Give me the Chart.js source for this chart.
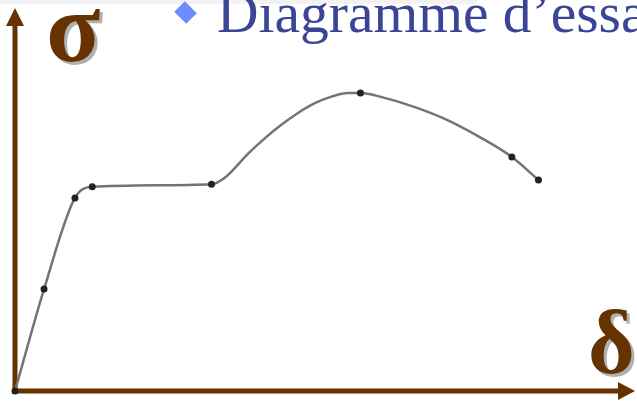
<!DOCTYPE html>
<html lang="fr">
  <head>
    <meta charset="utf-8" />
    <title>Diagramme d'essai</title>
    <style>
      * {
        margin: 0;
        padding: 0;
      }
      body {
        width: 637px;
        height: 405px;
        overflow: hidden;
        background: #fff;
        position: relative;
      }
      .chartBox {
        position: absolute;
        left: 0;
        top: 0;
        width: 637px;
        height: 405px;
      }
      .topStrip {
        position: absolute;
        left: 0;
        top: 0;
        width: 477px;
        height: 4px;
        background: #f2f2f2;
      }
      .title {
        position: absolute;
        left: 217px;
        top: -16px;
        font-family: "Liberation Serif", serif;
        font-size: 57.5px;
        line-height: 57.5px;
        color: #3b4596;
        white-space: nowrap;
      }
      .bullet {
        position: absolute;
        left: 177px;
        top: 5px;
        width: 17px;
        height: 15px;
        background: #6f8cff;
        transform: rotate(45deg);
      }
      .axisLabel {
        position: absolute;
        font-family: "Liberation Serif", serif;
        font-weight: bold;
        color: #663300;
        text-shadow: 3px 3px 0 #b0b0b0;
      }
    </style>
  </head>
  <body>
    <div class="topStrip"></div>
    <div class="chartBox">
      <canvas id="myChart"></canvas>
    </div>
    <div class="bullet"></div>
    <div class="title">Diagramme d’essai</div>
    <div class="axisLabel" style="left: 46px; top: -22px; font-size: 100px; line-height: 100px">σ</div>
    <div class="axisLabel" style="left: 588px; top: 298px; font-size: 90px; line-height: 90px">δ</div>

    <script src="https://cdn.jsdelivr.net/npm/chart.js@4.4.0/dist/chart.umd.min.js"></script>

    <script>
      // allongement (delta) et contrainte (sigma)
      const strainX = [0, 4.7, 9.7, 12.5, 31.8, 34.1, 37.8, 40.5, 43.1, 45.8, 48.6, 51.1, 53.9, 55.9, 59.2, 64.6, 69.9, 75.2, 80.4, 84.7];
      const stressY = [0, 26.6, 50.4, 53.3, 54.0, 55.9, 62.1, 66.1, 69.5, 72.6, 75.2, 76.8, 77.8, 77.8, 76.8, 74.2, 70.8, 66.3, 61.1, 55.1];
      // points marqués sur la courbe
      const markedIdx = [0, 1, 2, 3, 4, 13, 18, 19];

      const brown = "#663300";

      const axesPlugin = {
        id: "axes",
        beforeDatasetsDraw(chart) {
          const { ctx, scales } = chart;
          const x0 = scales.x.getPixelForValue(0);
          const y0 = scales.y.getPixelForValue(0);
          const yTop = scales.y.getPixelForValue(scales.y.max);
          const xEnd = scales.x.getPixelForValue(scales.x.max);
          ctx.save();
          ctx.strokeStyle = brown;
          ctx.fillStyle = brown;
          ctx.lineWidth = 5;
          // axe vertical
          ctx.beginPath();
          ctx.moveTo(x0, y0 + 3);
          ctx.lineTo(x0, yTop + 16);
          ctx.stroke();
          ctx.beginPath();
          ctx.moveTo(x0, yTop);
          ctx.lineTo(x0 - 9, yTop + 18);
          ctx.lineTo(x0 + 9, yTop + 18);
          ctx.closePath();
          ctx.fill();
          // axe horizontal
          ctx.beginPath();
          ctx.moveTo(x0 - 3, y0);
          ctx.lineTo(xEnd - 14, y0);
          ctx.stroke();
          ctx.beginPath();
          ctx.moveTo(xEnd + 2, y0);
          ctx.lineTo(xEnd - 15, y0 - 9);
          ctx.lineTo(xEnd - 15, y0 + 9);
          ctx.closePath();
          ctx.fill();
          ctx.restore();
        },
      };

      const data = {
        datasets: [
          {
            data: strainX.map((x, i) => ({ x: x, y: stressY[i] })),
            borderColor: "#747474",
            borderWidth: 2.5,
            cubicInterpolationMode: "monotone",
            pointRadius: strainX.map((x, i) => (markedIdx.includes(i) ? 3.5 : 0)),
            pointBackgroundColor: "#222",
            pointBorderWidth: 0,
            clip: false,
          },
        ],
      };

      const config = {
        type: "line",
        data: data,
        options: {
          responsive: true,
          maintainAspectRatio: false,
          animation: false,
          layout: {
            padding: { left: 15, top: 8, right: 0, bottom: 14 },
          },
          plugins: {
            legend: { display: false },
            tooltip: { enabled: false },
          },
          scales: {
            x: { type: "linear", min: 0, max: 100, display: false },
            y: { min: 0, max: 100, display: false },
          },
        },
        plugins: [axesPlugin],
      };

      const myChart = new Chart(document.getElementById("myChart"), config);
    </script>
  </body>
</html>
